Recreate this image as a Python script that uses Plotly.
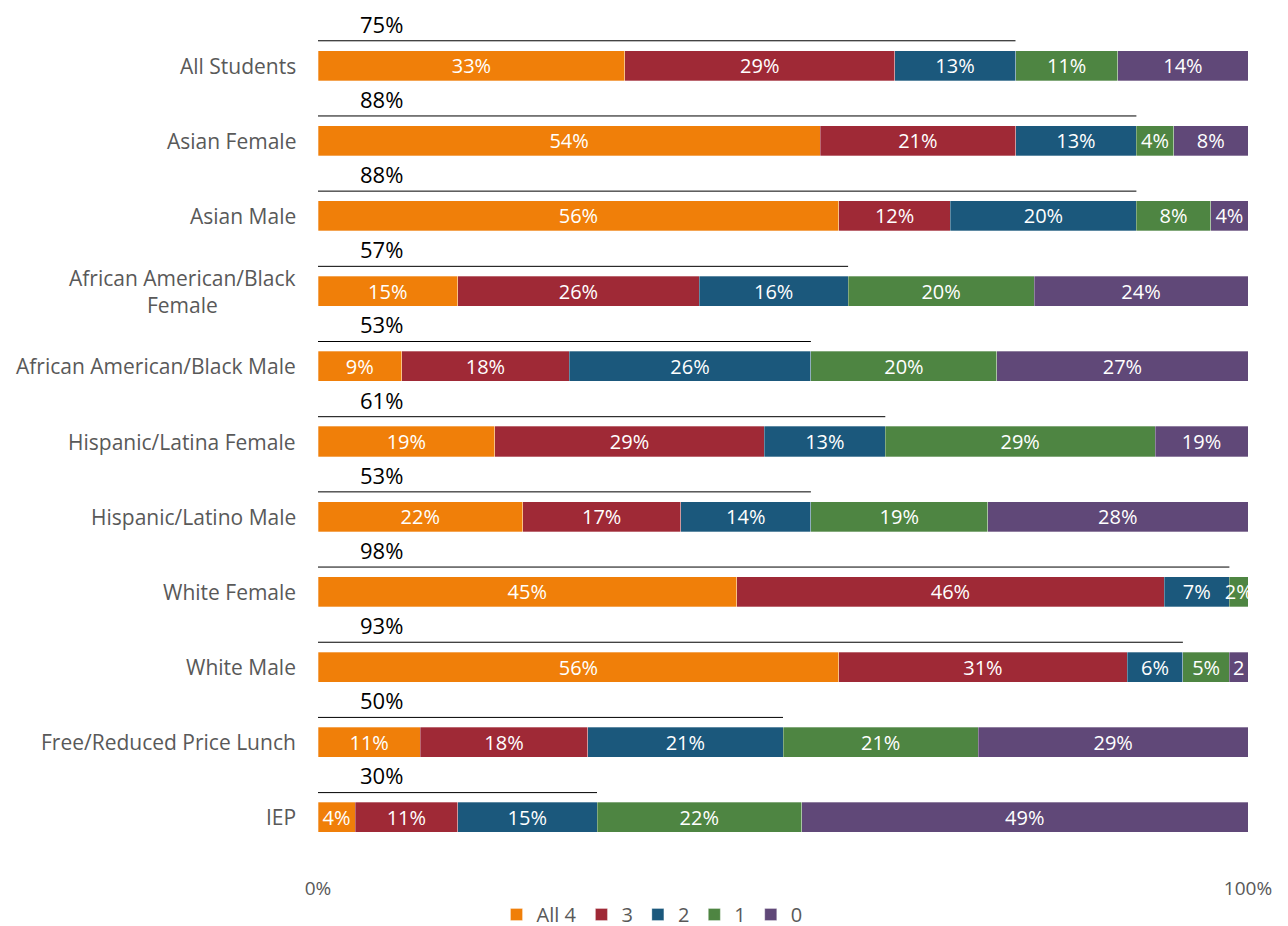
import plotly.graph_objects as go

categories = ["All Students", "Asian Female", "Asian Male", "African American/Black<br>Female",
              "African American/Black Male", "Hispanic/Latina Female", "Hispanic/Latino Male",
              "White Female", "White Male", "Free/Reduced Price Lunch", "IEP"]

all4 = [33, 54, 56, 15, 9, 19, 22, 45, 56, 11, 4]
three = [29, 21, 12, 26, 18, 29, 17, 46, 31, 18, 11]
two = [13, 13, 20, 16, 26, 13, 14, 7, 6, 21, 15]
one = [11, 4, 8, 20, 20, 29, 19, 2, 5, 21, 22]
zero = [14, 8, 4, 23, 27, 10, 28, 0.3, 2, 29, 48]

all4_labels = ["33%", "54%", "56%", "15%", "9%", "19%", "22%", "45%", "56%", "11%", "4%"]
three_labels = ["29%", "21%", "12%", "26%", "18%", "29%", "17%", "46%", "31%", "18%", "11%"]
two_labels = ["13%", "13%", "20%", "16%", "26%", "13%", "14%", "7%", "6%", "21%", "15%"]
one_labels = ["11%", "4%", "8%", "20%", "20%", "29%", "19%", "2%", "5%", "21%", "22%"]
zero_labels = ["14%", "8%", "4%", "24%", "27%", "19%", "28%", "", "2", "29%", "49%"]

totals = [75, 88, 88, 57, 53, 61, 53, 98, 93, 50, 30]

series = [
    ("All 4", all4, all4_labels, "#F07F09"),
    ("3", three, three_labels, "#9F2936"),
    ("2", two, two_labels, "#1B587C"),
    ("1", one, one_labels, "#4E8542"),
    ("0", zero, zero_labels, "#604878"),
]

FONT = "Open Sans"
pos = list(range(len(categories)))

fig = go.Figure()
for name, vals, labels, color in series:
    fig.add_trace(go.Bar(
        name=name, x=vals, y=pos, orientation="h", width=0.4,
        marker=dict(color=color, line=dict(color="rgba(255,255,255,0.6)", width=0.5)),
        text=labels, textposition="inside", insidetextanchor="middle", textangle=0,
        textfont=dict(color="white", size=20, family=FONT),
        hoverinfo="skip",
    ))

lx, ly = [], []
for i, t in enumerate(totals):
    lx += [0, t, None]
    ly += [i - 0.33, i - 0.33, None]
fig.add_trace(go.Scatter(x=lx, y=ly, mode="lines", line=dict(color="black", width=1),
                         showlegend=False, hoverinfo="skip", cliponaxis=False))

annotations = []
for i, t in enumerate(totals):
    annotations.append(dict(x=4.3, y=i, xref="x", yref="y", yshift=42, text=f"{t}%",
                            showarrow=False, xanchor="left", yanchor="middle",
                            font=dict(size=22, color="black", family=FONT)))
for i, c in enumerate(categories):
    annotations.append(dict(x=0, y=i, xref="paper", yref="y", text=c, showarrow=False,
                            xanchor="right", yanchor="middle", xshift=-20, align="center",
                            font=dict(size=21, color="#595959", family=FONT)))

fig.update_layout(
    barmode="stack",
    width=1288, height=926,
    margin=dict(l=310, r=48, t=20, b=79),
    plot_bgcolor="white", paper_bgcolor="white",
    font=dict(family=FONT, color="#595959"),
    uniformtext=dict(minsize=20, mode="show"),
    annotations=annotations,
    legend=dict(orientation="h", xref="container", yref="container", x=0.5, xanchor="center",
                y=0.0, yanchor="bottom", font=dict(size=20, color="#595959", family=FONT),
                traceorder="normal", itemwidth=30),
    xaxis=dict(range=[0, 100], tickvals=[0, 100], ticktext=["0%", "100%"],
               showgrid=True, gridcolor="#D9D9D9", gridwidth=1.5, zeroline=False,
               tickfont=dict(size=19, color="#595959", family=FONT), ticklabelstandoff=20,
               showline=False, automargin=False),
    yaxis=dict(range=[10.5, -0.5], showticklabels=False, showgrid=False, zeroline=False,
               showline=False, automargin=False),
)

fig.write_html("out.html")
